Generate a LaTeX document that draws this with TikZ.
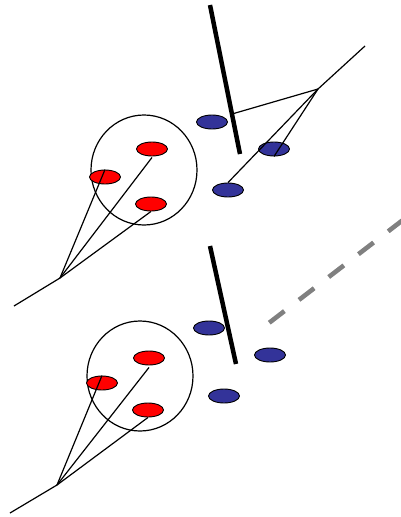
\documentclass[tikz,border=0pt]{standalone}
\usetikzlibrary{shapes.geometric}
\definecolor{bluedot}{RGB}{51,51,153}
\definecolor{reddot}{RGB}{255,0,0}
\definecolor{dashgray}{RGB}{128,128,128}
\tikzset{
  dot/.style={ellipse, draw=black, line width=0.9pt, minimum width=31pt, minimum height=14pt, inner sep=0pt},
  bdot/.style={dot, fill=bluedot},
  rdot/.style={dot, fill=reddot},
  ring/.style={ellipse, draw=black, line width=1.2pt, minimum width=106pt, minimum height=110pt, inner sep=0pt},
  bar/.style={line width=4.5pt, black},
  thin/.style={line width=1.2pt, black},
  raydash/.style={line width=4.5pt, dash pattern=on 19pt off 18.5pt},
}
\begin{document}
\begin{tikzpicture}[x=1pt,y=-1pt]
\useasboundingbox (0,0) rectangle (400,517);
% ---------- top scene ----------
\node[ring] (c1) at (144,170) {};
\node[rdot] (r1a) at (152,149) {};
\node[rdot] (r1b) at (105,177) {};
\node[rdot] (r1c) at (151,204) {};
\node[bdot] (b1a) at (212,122) {};
\node[bdot] (b1b) at (274,149) {};
\node[bdot] (b1c) at (228,190) {};
\coordinate (bar1top) at (210,5);
\coordinate (bar1bot) at (240,154);
\draw[bar] (bar1top) -- (bar1bot);
\coordinate (apexL1) at (60,278);
\coordinate (tailL1) at (14,306);
\draw[thin] (tailL1) -- (apexL1);
\draw[thin] (apexL1) -- (r1b.north);
\draw[thin] (apexL1) -- ([yshift=-1pt]r1a.south);
\draw[thin] (apexL1) -- (r1c.south);
\coordinate (apexR1) at (318,89);
\coordinate (tailR1) at (365,46);
\coordinate (hit1) at (232,114);
\draw[thin] (tailR1) -- (apexR1);
\draw[thin] (apexR1) -- (hit1);
\draw[thin] (apexR1) -- (b1c.north);
\draw[thin] (apexR1) -- (b1b.south);
% ---------- bottom scene ----------
\node[ring] (c2) at (140,376) {};
\node[rdot] (r2a) at (149,358) {};
\node[rdot] (r2b) at (102,383) {};
\node[rdot] (r2c) at (148,410) {};
\node[bdot] (b2a) at (209,328) {};
\node[bdot] (b2b) at (270,355) {};
\node[bdot] (b2c) at (224,396) {};
\coordinate (bar2top) at (210,246);
\coordinate (bar2bot) at (236,364);
\draw[bar] (bar2top) -- (bar2bot);
\coordinate (apexL2) at (57,485);
\coordinate (tailL2) at (10,513);
\draw[thin] (tailL2) -- (apexL2);
\draw[thin] (apexL2) -- (r2b.north);
\draw[thin] (apexL2) -- ([yshift=-2pt]r2a.south);
\draw[thin] (apexL2) -- (r2c.south);
% ---------- gray dashed ray ----------
\coordinate (rayS) at (269.3,322.7);
\coordinate (rayE) at (412,213);
\draw[raydash, black!18, shift={(1.2,1.6)}] (rayS) -- (rayE);
\draw[raydash, dashgray] (rayS) -- (rayE);
\end{tikzpicture}
\end{document}
